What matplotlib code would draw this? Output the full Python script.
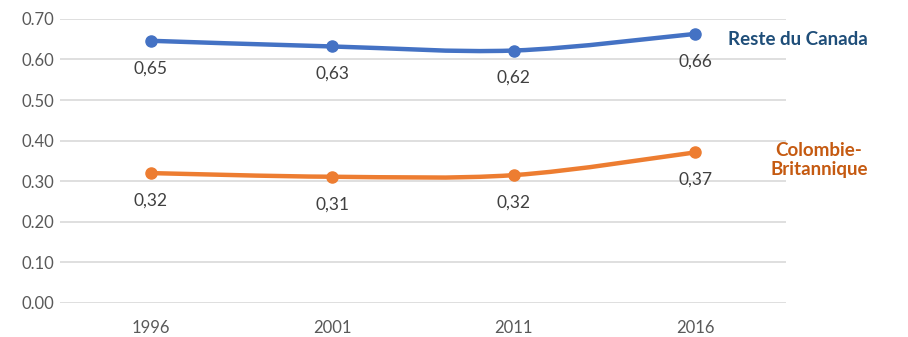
import numpy as np
import matplotlib.pyplot as plt
from matplotlib.path import Path
from matplotlib.patches import PathPatch

years = ["1996", "2001", "2011", "2016"]
reste_canada = [0.646, 0.632, 0.622, 0.663]
colombie_brit = [0.320, 0.311, 0.315, 0.371]
labels_reste = ["0,65", "0,63", "0,62", "0,66"]
labels_cb = ["0,32", "0,31", "0,32", "0,37"]
yticks = [0.0, 0.1, 0.2, 0.3, 0.4, 0.5, 0.6, 0.7]

plt.rcParams['font.family'] = ['Lato', 'DejaVu Sans']


def smooth_path(xs, ys):
    ## Courbe lissee type Excel (Bezier / Catmull-Rom)
    pts = np.column_stack([xs, ys])
    verts = [pts[0]]
    codes = [Path.MOVETO]
    n = len(pts)
    for i in range(n - 1):
        p0 = pts[max(i - 1, 0)]
        p1 = pts[i]
        p2 = pts[i + 1]
        p3 = pts[min(i + 2, n - 1)]
        c1 = p1 + (p2 - p0) / 6
        c2 = p2 - (p3 - p1) / 6
        verts += [c1, c2, p2]
        codes += [Path.CURVE4] * 3
    return Path(verts, codes)


def draw_series(ax, values, labels, color):
    x = np.arange(len(values))
    patch = PathPatch(smooth_path(x, values), facecolor='none', edgecolor=color,
                      lw=3.2, capstyle='round', clip_on=False, zorder=3)
    ax.add_patch(patch)
    ax.plot(x, values, 'o', color=color, markersize=8, clip_on=False, zorder=4)
    for xi, v, lab in zip(x, values, labels):
        ax.annotate(lab, (xi, v), xytext=(0, -14), textcoords='offset points',
                    ha='center', va='top', fontsize=12.5, color='#404040')


fig = plt.figure(figsize=(9.08, 3.37), dpi=100)
ax = fig.add_axes([0.066, 0.101, 0.7996, 0.843])

draw_series(ax, reste_canada, labels_reste, '#4472C4')
draw_series(ax, colombie_brit, labels_cb, '#ED7D31')

ax.set_xlim(-0.5, 3.5)
ax.set_ylim(0, 0.70)
ax.set_yticks(yticks)
ax.set_yticklabels([f"{t:.2f}" for t in yticks])
ax.set_xticks(range(len(years)))
ax.set_xticklabels(years)
ax.tick_params(axis='both', length=0, labelsize=12, labelcolor='#595959')
ax.tick_params(axis='y', pad=28)
ax.tick_params(axis='x', pad=12)
for lab in ax.get_yticklabels():
    lab.set_horizontalalignment('left')
ax.grid(axis='y', color='#D9D9D9', lw=1.2)
ax.set_axisbelow(True)
for s in ax.spines.values():
    s.set_visible(False)

fig.text(0.879, 0.882, "Reste du Canada", ha='center', va='center',
         fontsize=13.5, fontweight='bold', color='#1F4E79')
fig.text(0.902, 0.525, "Colombie-\nBritannique", ha='center', va='center',
         fontsize=13.5, fontweight='bold', color='#C55A11', linespacing=1.2)

plt.savefig("out.png")
